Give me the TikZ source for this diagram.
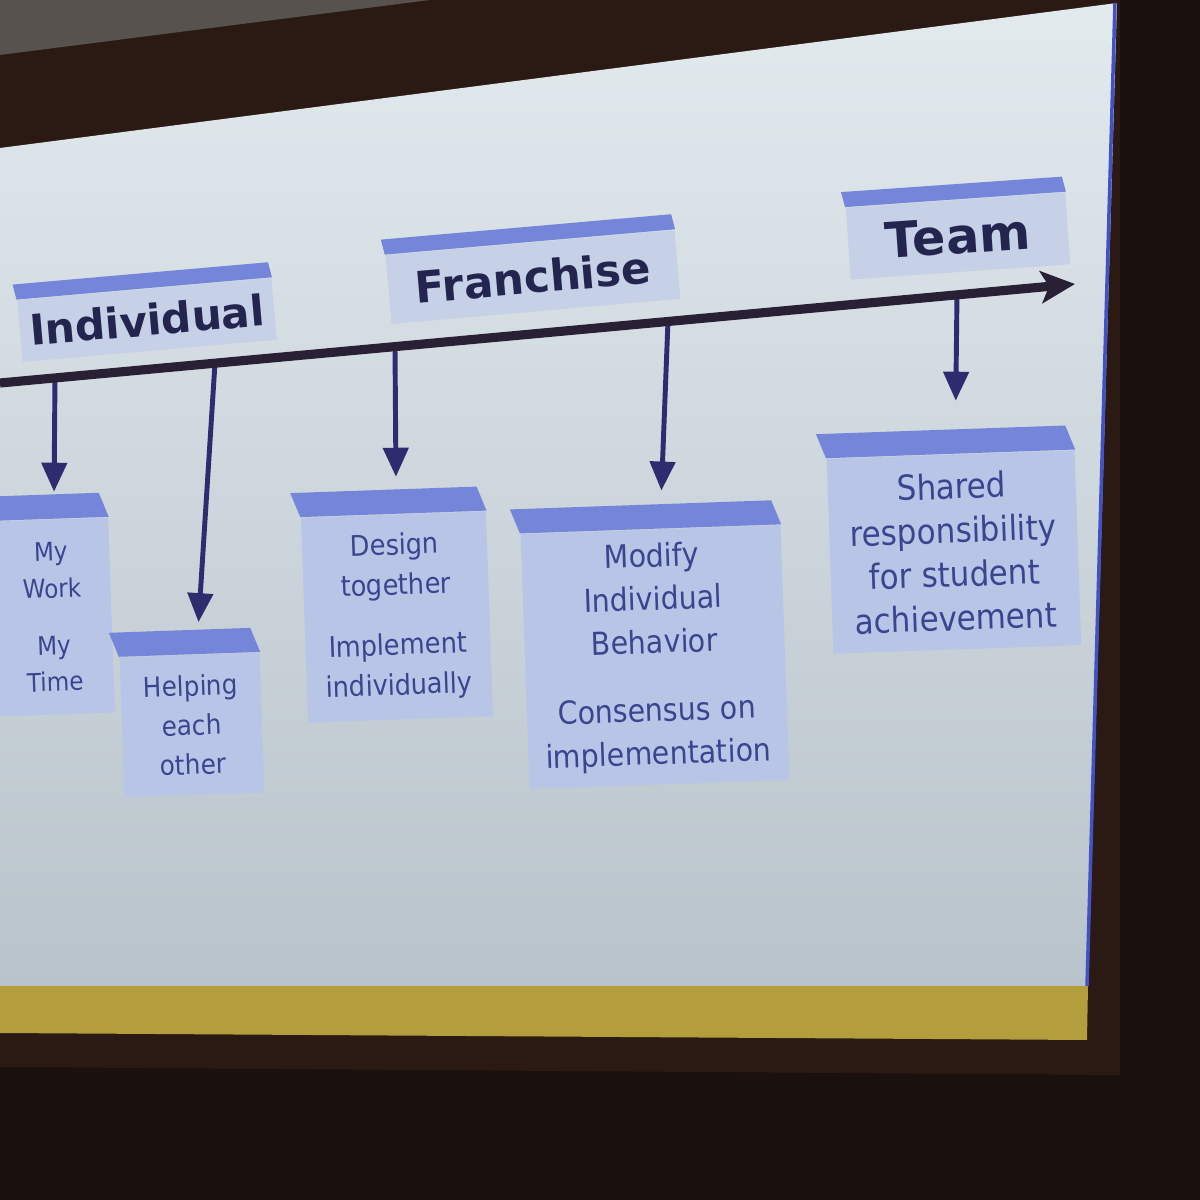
\documentclass[tikz,border=0pt]{standalone}
\usepackage{fontspec}
\setmainfont{DejaVu Sans}
\newfontfamily\condfont{DejaVu Sans Condensed}
\usepackage{tikz}
\usetikzlibrary{shapes,arrows,positioning,calc,arrows.meta}

\definecolor{roomdark}{HTML}{1A100D}
\definecolor{roomband}{HTML}{2B1A13}
\definecolor{ceiling}{HTML}{58524F}
\definecolor{slidetop}{HTML}{E2EAEE}
\definecolor{slidebot}{HTML}{B9C3CB}
\definecolor{barcol}{HTML}{B39D3C}
\definecolor{edgecol}{HTML}{4252C4}
\definecolor{linecol}{HTML}{2A2036}
\definecolor{arrowcol}{HTML}{2C2C6E}
\definecolor{headbody}{HTML}{C6D0E6}
\definecolor{itembody}{HTML}{B8C5E7}
\definecolor{slabcol}{HTML}{7485DA}
\definecolor{headtext}{HTML}{23254F}
\definecolor{itemtext}{HTML}{3A4590}

\tikzstyle{timeline} = [-{Stealth[length=3.4mm,width=3.2mm,inset=0.8mm]}, line width=2.6pt, draw=linecol]
\tikzstyle{arrow} = [-{Triangle[length=2.9mm,width=2.5mm]}, line width=1.4pt, draw=arrowcol]
\tikzstyle{stage} = [rectangle, fill=headbody, text=headtext, rotate=5, inner sep=1pt]
\tikzstyle{item} = [rectangle, fill=itembody, text=itemtext, align=center, rotate=2, inner sep=2pt]
\tikzstyle{slab} = [fill=slabcol]

\begin{document}
\begin{tikzpicture}
    \useasboundingbox (0,0) rectangle (12,12);

    % Room and screen
    \fill[roomdark] (0,0) rectangle (12,12);
    \fill[roomband] (0,11.45) -- (4.3,12) -- (11.2,12) -- (11.2,1.25) -- (0,1.33) -- cycle;
    \fill[ceiling] (0,12) -- (4.3,12) -- (0,11.45) -- cycle;
    \shade[top color=slidetop, bottom color=slidebot] (0,10.52) -- (11.17,11.97) -- (10.88,2.14) -- (0,2.14) -- cycle;
    \fill[barcol] (0,2.14) -- (10.88,2.14) -- (10.87,1.60) -- (0,1.67) -- cycle;
    \draw[edgecol, line width=1pt] (11.15,11.97) -- (10.87,2.14);

    % Timeline
    \coordinate (tstart) at (0,8.17);
    \coordinate (tend) at (10.75,9.16);
    \coordinate (t1) at (0.55,8.22);
    \coordinate (t2) at (2.15,8.37);
    \coordinate (t3) at (3.95,8.53);
    \coordinate (t4) at (6.68,8.79);
    \coordinate (t5) at (9.57,9.05);

    % Stages
    \node[stage, minimum width=2.55cm, minimum height=0.62cm, font=\bfseries\fontsize{12}{14}\selectfont] (indiv) at (1.47,8.80) {Individual};
    \node[stage, minimum width=2.9cm, minimum height=0.69cm, font=\bfseries\fontsize{12.4}{14}\selectfont] (franch) at (5.33,9.23) {Franchise};
    \node[stage, rotate=-1, minimum width=2.2cm, minimum height=0.72cm, font=\bfseries\fontsize{14}{16}\selectfont] (team) at (9.58,9.64) {Team};

    % Items
    \node[item, minimum width=1.17cm, minimum height=1.95cm, font=\condfont\fontsize{7.3}{10.5}\selectfont] (mywork) at (0.53,5.83) {My\\Work\\[0.2cm]My\\Time};
    \node[item, minimum width=1.4cm, minimum height=1.4cm, font=\condfont\fontsize{7.8}{11.2}\selectfont] (helping) at (1.92,4.75) {Helping\\each\\other};
    \node[item, minimum width=1.85cm, minimum height=2.05cm, font=\condfont\fontsize{8.1}{11.4}\selectfont] (design) at (3.97,5.83) {Design\\together\\[0.2cm]Implement\\individually};
    \node[item, minimum width=2.6cm, minimum height=2.55cm, font=\condfont\fontsize{9}{12.3}\selectfont] (modify) at (6.55,5.43) {Modify\\Individual\\Behavior\\[0.25cm]Consensus on\\implementation};
    \node[item, minimum width=2.48cm, minimum height=1.95cm, font=\condfont\fontsize{9.8}{12.5}\selectfont] (shared) at (9.54,6.48) {Shared\\responsibility\\for student\\achievement};

    % Slabs on top of the boxes
    \foreach \n in {indiv, franch, team}
        \fill[slab] ($(\n.north west)+(-0.04,0.15)$) -- ($(\n.north east)+(-0.04,0.15)$) -- (\n.north east) -- (\n.north west) -- cycle;
    \foreach \n in {mywork, helping, design, modify, shared}
        \fill[slab] ($(\n.north west)+(-0.1,0.24)$) -- ($(\n.north east)+(-0.1,0.24)$) -- (\n.north east) -- (\n.north west) -- cycle;

    % Arrows
    \draw[arrow, shorten >=0.27cm] (t1) -- (mywork);
    \draw[arrow, shorten >=0.32cm] (t2) -- (helping);
    \draw[arrow, shorten >=0.37cm] (t3) -- (design);
    \draw[arrow, shorten >=0.38cm] (t4) -- (modify);
    \draw[arrow, shorten >=0.53cm] (t5) -- (shared);
    \draw[timeline] (tstart) -- (tend);
\end{tikzpicture}
\end{document}
